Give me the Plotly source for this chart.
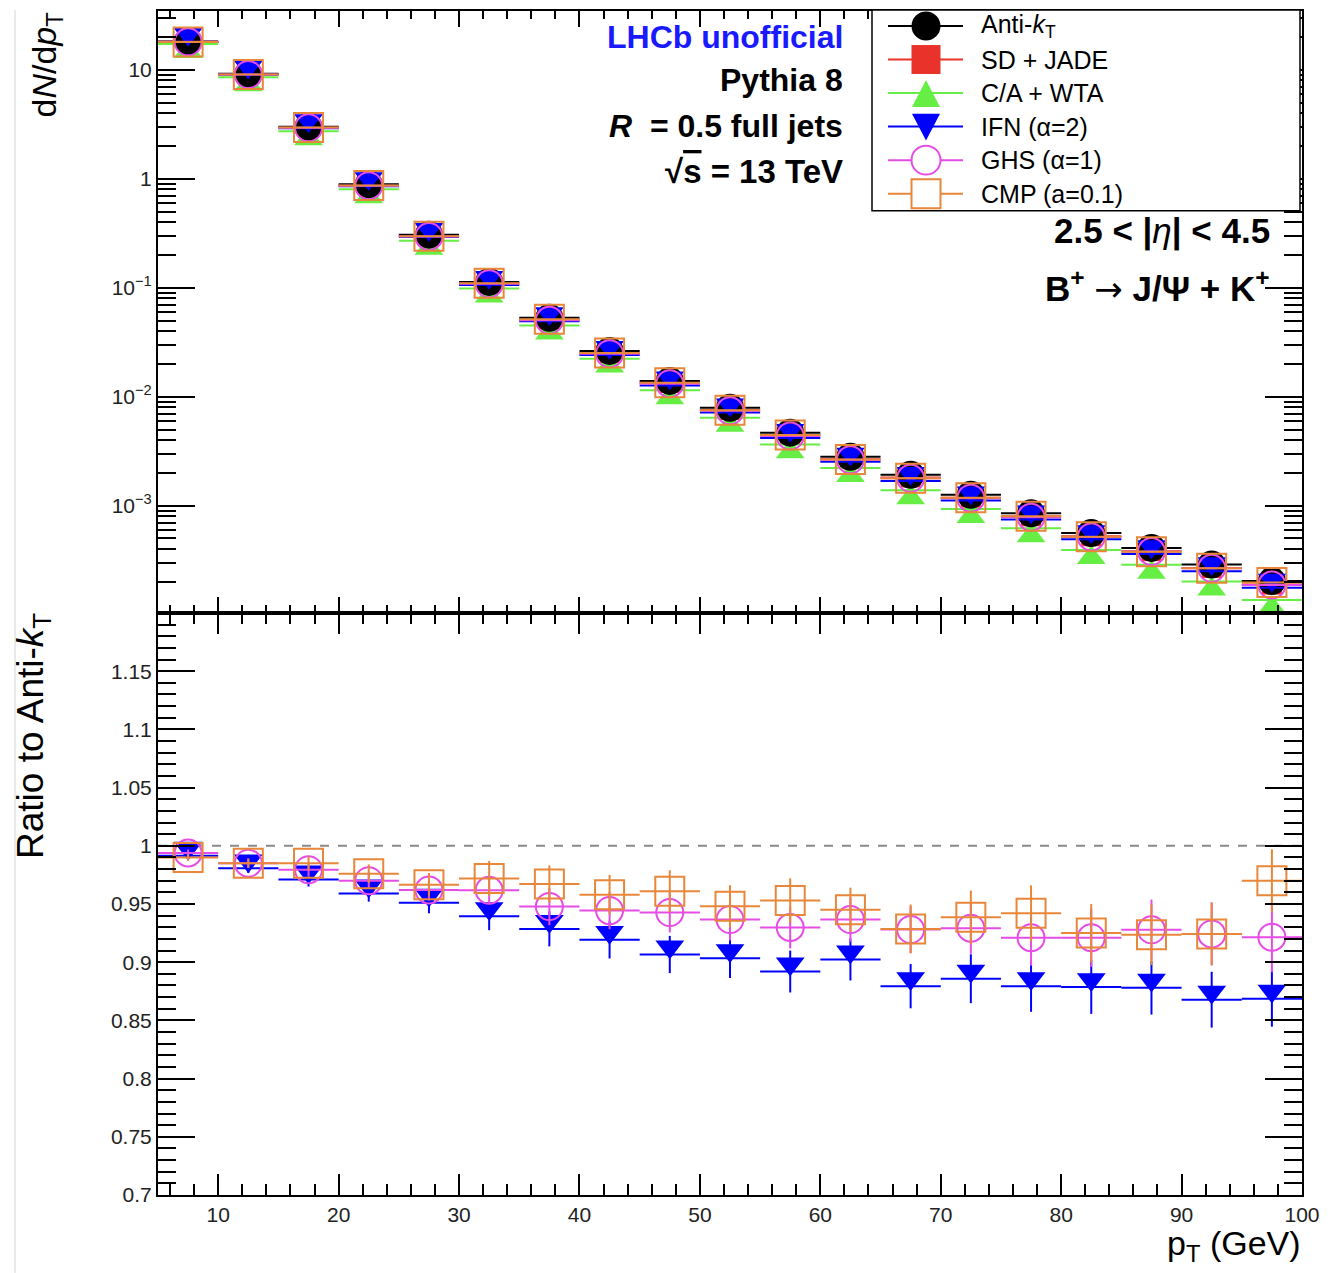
import plotly.graph_objects as go

# ---------------- data ----------------
bin_edges = [5, 10, 15, 20, 25, 30, 35, 40, 45, 50, 55, 60, 65, 70, 75, 80, 85, 90, 95, 100]
pt_centers = [(a + b) / 2 for a, b in zip(bin_edges[:-1], bin_edges[1:])]
pt_halfwidth = [(b - a) / 2 for a, b in zip(bin_edges[:-1], bin_edges[1:])]

# dN/dpT for anti-kT
antikt = [18.2, 9.19, 3.0, 0.89, 0.307, 0.113, 0.053, 0.0263, 0.01396, 0.00792,
          0.00468, 0.00281, 0.00192, 0.00126, 8.5e-4, 5.6e-4, 4.09e-4, 2.88e-4, 2.03e-4]

# ratios to anti-kT
ratio_sd_jade = [0.995, 0.99, 0.985, 0.98, 0.975, 0.97, 0.965, 0.96, 0.96, 0.955,
                 0.95, 0.95, 0.945, 0.94, 0.94, 0.935, 0.935, 0.93, 0.93]
ratio_ca_wta = [0.95, 0.93, 0.91, 0.90, 0.88, 0.87, 0.85, 0.85, 0.82, 0.81,
                0.78, 0.79, 0.72, 0.74, 0.73, 0.70, 0.70, 0.70, 0.67]
ratio_ifn = [0.9915, 0.9806, 0.971, 0.959, 0.951, 0.9395, 0.9286, 0.9192, 0.9066, 0.9034,
             0.892, 0.9023, 0.8794, 0.8858, 0.8794, 0.8786, 0.878, 0.8678, 0.8686]
ratio_ghs = [0.9938, 0.985, 0.9795, 0.970, 0.962, 0.9618, 0.9478, 0.9443, 0.9426, 0.9366,
             0.9298, 0.9366, 0.928, 0.9292, 0.921, 0.921, 0.9278, 0.9243, 0.9214]
ratio_cmp = [0.990, 0.985, 0.985, 0.976, 0.9666, 0.972, 0.9672, 0.958, 0.961, 0.948,
             0.953, 0.945, 0.9286, 0.9386, 0.942, 0.925, 0.9235, 0.9243, 0.970]

err_ifn = [0.003, 0.004, 0.006, 0.007, 0.009, 0.012, 0.015, 0.016, 0.016, 0.017,
           0.018, 0.018, 0.019, 0.021, 0.022, 0.023, 0.023, 0.024, 0.024]
err_ghs = [0.003, 0.004, 0.006, 0.007, 0.009, 0.012, 0.016, 0.016, 0.017, 0.018,
           0.018, 0.019, 0.020, 0.022, 0.024, 0.025, 0.026, 0.027, 0.030]
err_cmp = [0.003, 0.004, 0.006, 0.008, 0.010, 0.015, 0.016, 0.017, 0.018, 0.018,
           0.019, 0.019, 0.021, 0.023, 0.024, 0.025, 0.026, 0.027, 0.027]

series_labels = ["Anti-<i>k</i><sub>T</sub>", "SD + JADE", "C/A + WTA",
                 "IFN (α=2)", "GHS (α=1)", "CMP (a=0.1)"]
x_tick_vals = [10, 20, 30, 40, 50, 60, 70, 80, 90, 100]
y_top_tickvals = [1e-3, 1e-2, 1e-1, 1, 10]
y_top_ticktext = ["10<sup>−3</sup>", "10<sup>−2</sup>", "10<sup>−1</sup>", "1", "10"]
y_ratio_tickvals = [0.7, 0.75, 0.8, 0.85, 0.9, 0.95, 1.0, 1.05, 1.1, 1.15]
y_ratio_ticktext = ["0.7", "0.75", "0.8", "0.85", "0.9", "0.95", "1", "1.05", "1.1", "1.15"]

# ---------------- styles ----------------
FONT = "Liberation Sans, Arial, Helvetica, sans-serif"
C_BLACK = "#000000"
C_RED = "#e8322a"
C_GREEN = "#66ee44"
C_BLUE = "#0000ff"
C_MAG = "#e64ce6"
C_ORANGE = "#e8873a"

PAGE_W, PAGE_H = 1340, 1273
OFF = 8                                # default page body margin
W, H = PAGE_W - OFF, PAGE_H - OFF
PL, PR, PT, PB = 158, 1302, 9, 1195    # plot area in page pixels
SPLIT = 612                            # boundary between pads (page pixel)


def px2x(px):
    return (px - PL) / (PR - PL)


def px2y(py):
    return (PB - py) / (PB - PT)


split_frac = px2y(SPLIT)


def tri(size, down, color):
    # triangle whose bounding box is centred on the point (ROOT style)
    return dict(symbol="triangle-up", size=size, color=color, line=dict(width=0),
                angle=180 if down else 0, standoff=round(0.308 * size, 1))


fig = go.Figure()

top_values = {
    "sd": [a * r for a, r in zip(antikt, ratio_sd_jade)],
    "ca": [a * r for a, r in zip(antikt, ratio_ca_wta)],
    "ak": antikt,
    "ifn": [a * r for a, r in zip(antikt, ratio_ifn)],
    "ghs": [a * r for a, r in zip(antikt, ratio_ghs)],
    "cmp": [a * r for a, r in zip(antikt, ratio_cmp)],
}
marker_top = {
    "sd": dict(symbol="square", size=20, color=C_RED, line=dict(width=0)),
    "ca": tri(25, False, C_GREEN),
    "ak": dict(symbol="circle", size=28, color=C_BLACK, line=dict(width=0)),
    "ifn": tri(25, True, C_BLUE),
    "ghs": dict(symbol="circle-open", size=27, color=C_MAG, line=dict(width=2, color=C_MAG)),
    "cmp": dict(symbol="square-open", size=29, color=C_ORANGE, line=dict(width=2, color=C_ORANGE)),
}
marker_ratio = dict(marker_top)
marker_ratio["ifn"] = tri(25, True, C_BLUE)
colors = {"sd": C_RED, "ca": C_GREEN, "ak": C_BLACK, "ifn": C_BLUE, "ghs": C_MAG, "cmp": C_ORANGE}

for key in ["sd", "ca", "ak", "ifn", "ghs", "cmp"]:
    fig.add_trace(go.Scatter(
        x=pt_centers, y=top_values[key], mode="markers",
        marker=marker_top[key],
        error_x=dict(type="data", array=pt_halfwidth, width=0, thickness=2, color=colors[key]),
        xaxis="x", yaxis="y", showlegend=False, hoverinfo="skip"))

ratio_sets = [("ifn", ratio_ifn, err_ifn), ("ghs", ratio_ghs, err_ghs), ("cmp", ratio_cmp, err_cmp)]
for key, vals, errs in ratio_sets:
    fig.add_trace(go.Scatter(
        x=pt_centers, y=vals, mode="markers",
        marker=marker_ratio[key],
        error_x=dict(type="data", array=pt_halfwidth, width=0, thickness=2, color=colors[key]),
        error_y=dict(type="data", array=errs, width=0, thickness=2, color=colors[key]),
        xaxis="x2", yaxis="y2", showlegend=False, hoverinfo="skip"))

axis_common = dict(showline=True, linecolor="black", linewidth=2, mirror="ticks",
                   ticks="inside", tickcolor="black", tickwidth=2,
                   showgrid=False, zeroline=False,
                   tickfont=dict(family=FONT, size=21, color="#222222"))

minor_top_log = [m * 10.0 ** k for k in range(-4, 2) for m in range(2, 10)]

fig.update_layout(
    xaxis=dict(domain=[0, 1], anchor="y", range=[5, 100], tickmode="array",
               tickvals=x_tick_vals, ticklen=16, showticklabels=False, matches="x2",
               minor=dict(ticks="inside", dtick=2, tick0=0, ticklen=8, tickwidth=2,
                          tickcolor="black"),
               **axis_common),
    yaxis=dict(domain=[split_frac, 1], anchor="x", type="log", range=[-3.985, 1.54],
               tickmode="array", tickvals=y_top_tickvals, ticktext=y_top_ticktext,
               ticklen=37,
               minor=dict(ticks="inside", tickmode="array", tickvals=minor_top_log,
                          ticklen=18, tickwidth=2, tickcolor="black"),
               **axis_common),
    xaxis2=dict(domain=[0, 1], anchor="y2", range=[5, 100], tickmode="array",
                tickvals=x_tick_vals, ticklen=21,
                minor=dict(ticks="inside", dtick=2, tick0=0, ticklen=11, tickwidth=2,
                           tickcolor="black"),
                **axis_common),
    yaxis2=dict(domain=[0, split_frac], anchor="x2", range=[0.7, 1.2],
                tickmode="array", tickvals=y_ratio_tickvals, ticktext=y_ratio_ticktext,
                ticklen=37,
                minor=dict(ticks="inside", dtick=0.01, tick0=0.7, ticklen=18, tickwidth=2,
                           tickcolor="black"),
                **axis_common),
    width=W, height=H,
    margin=dict(l=PL - OFF, r=W - (PR - OFF), t=PT - OFF, b=H - (PB - OFF), pad=0),
    paper_bgcolor="white", plot_bgcolor="white",
    showlegend=False,
    font=dict(family=FONT, color="black"),
)

shapes = []
annotations = []

# reference line at ratio 1
shapes.append(dict(type="line", xref="x2", yref="y2", x0=5, x1=100, y0=1, y1=1,
                   line=dict(color="#8a8a8a", width=2, dash="dash"), layer="below"))

# faint page border at left
shapes.append(dict(type="line", xref="paper", yref="paper", x0=px2x(15), x1=px2x(15),
                   y0=px2y(PAGE_H), y1=px2y(OFF), line=dict(color="#d4d4d4", width=1)))

# ---------------- legend (drawn as layout shapes) ----------------
LEG_L, LEG_R, LEG_T, LEG_B = 872, 1300, 8, 209
shapes.append(dict(type="rect", xref="paper", yref="paper",
                   x0=px2x(LEG_L), x1=px2x(LEG_R), y0=px2y(LEG_B), y1=px2y(LEG_T),
                   line=dict(color="black", width=1.5), fillcolor="white"))
leg_keys = ["ak", "sd", "ca", "ifn", "ghs", "cmp"]
leg_y0, leg_dy = 24, 33.6
MX, LX0, LX1, TX = 926, 888, 963, 979
for i, key in enumerate(leg_keys):
    yc = leg_y0 + i * leg_dy
    c = colors[key]
    shapes.append(dict(type="line", xref="paper", yref="paper",
                       x0=px2x(LX0), x1=px2x(LX1), y0=px2y(yc), y1=px2y(yc),
                       line=dict(color=c, width=2)))
    r = 14.5
    if key in ("ak", "ghs"):
        filled = key == "ak"
        shapes.append(dict(type="circle", xref="paper", yref="paper",
                           x0=px2x(MX - r), x1=px2x(MX + r), y0=px2y(yc + r), y1=px2y(yc - r),
                           line=dict(color=c, width=0 if filled else 2),
                           fillcolor=c if filled else "white"))
    elif key in ("sd", "cmp"):
        filled = key == "sd"
        shapes.append(dict(type="rect", xref="paper", yref="paper",
                           x0=px2x(MX - r), x1=px2x(MX + r), y0=px2y(yc + r), y1=px2y(yc - r),
                           line=dict(color=c, width=0 if filled else 2),
                           fillcolor=c if filled else "white"))
    else:
        hw = 14
        if key == "ca":
            pts = [(MX - hw, yc + 14), (MX + hw, yc + 14), (MX, yc - 13)]
        else:
            pts = [(MX - hw, yc - 13), (MX + hw, yc - 13), (MX, yc + 14)]
        path = "M {} {} L {} {} L {} {} Z".format(
            px2x(pts[0][0]), px2y(pts[0][1]), px2x(pts[1][0]), px2y(pts[1][1]),
            px2x(pts[2][0]), px2y(pts[2][1]))
        shapes.append(dict(type="path", xref="paper", yref="paper", path=path,
                           line=dict(color=c, width=0), fillcolor=c))
    annotations.append(dict(xref="paper", yref="paper", x=px2x(TX), y=px2y(yc),
                            xanchor="left", yanchor="middle", showarrow=False,
                            text=series_labels[i],
                            font=dict(family=FONT, size=25, color="black")))


# ---------------- text labels ----------------
def label(text, px, py, size, color="black", xanchor="right"):
    annotations.append(dict(xref="paper", yref="paper", x=px2x(px), y=px2y(py),
                            xanchor=xanchor, yanchor="middle", showarrow=False,
                            text=text, font=dict(family=FONT, size=size, color=color)))


label("<b>LHCb unofficial</b>", 845, 35, 32, color="#1a1aff")
label("<b>Pythia 8</b>", 845, 78, 32)
label("<b><i>R</i>  = 0.5 full jets</b>", 845, 124, 32)
label("<b>√<span style='text-decoration:overline'>s</span> = 13 TeV</b>", 845, 170, 33)
label("<b>2.5 &lt; |</b><i>η</i><b>| &lt; 4.5</b>", 1272, 229, 35)
label("<b>B<sup>+</sup></b> <span style='font-family:DejaVu Sans;font-size:34px'>→</span>"
      " <b>J/Ψ + K<sup>+</sup></b>", 1272, 285, 35)

# axis titles
annotations.append(dict(xref="paper", yref="paper", x=px2x(46), y=px2y(9),
                        xanchor="center", yanchor="top", showarrow=False, textangle=-90,
                        text="d<i>N</i>/d<i>p</i><sub>T</sub>",
                        font=dict(family=FONT, size=34, color="black")))
annotations.append(dict(xref="paper", yref="paper", x=px2x(33), y=px2y(610),
                        xanchor="center", yanchor="top", showarrow=False, textangle=-90,
                        text="Ratio to Anti-<i>k</i><sub>T</sub>",
                        font=dict(family=FONT, size=37, color="black")))
annotations.append(dict(xref="paper", yref="paper", x=px2x(1303), y=px2y(1246),
                        xanchor="right", yanchor="middle", showarrow=False,
                        text="p<sub>T</sub> (GeV)",
                        font=dict(family=FONT, size=34, color="black")))

fig.update_layout(shapes=shapes, annotations=annotations)

fig.write_html("out.html")
